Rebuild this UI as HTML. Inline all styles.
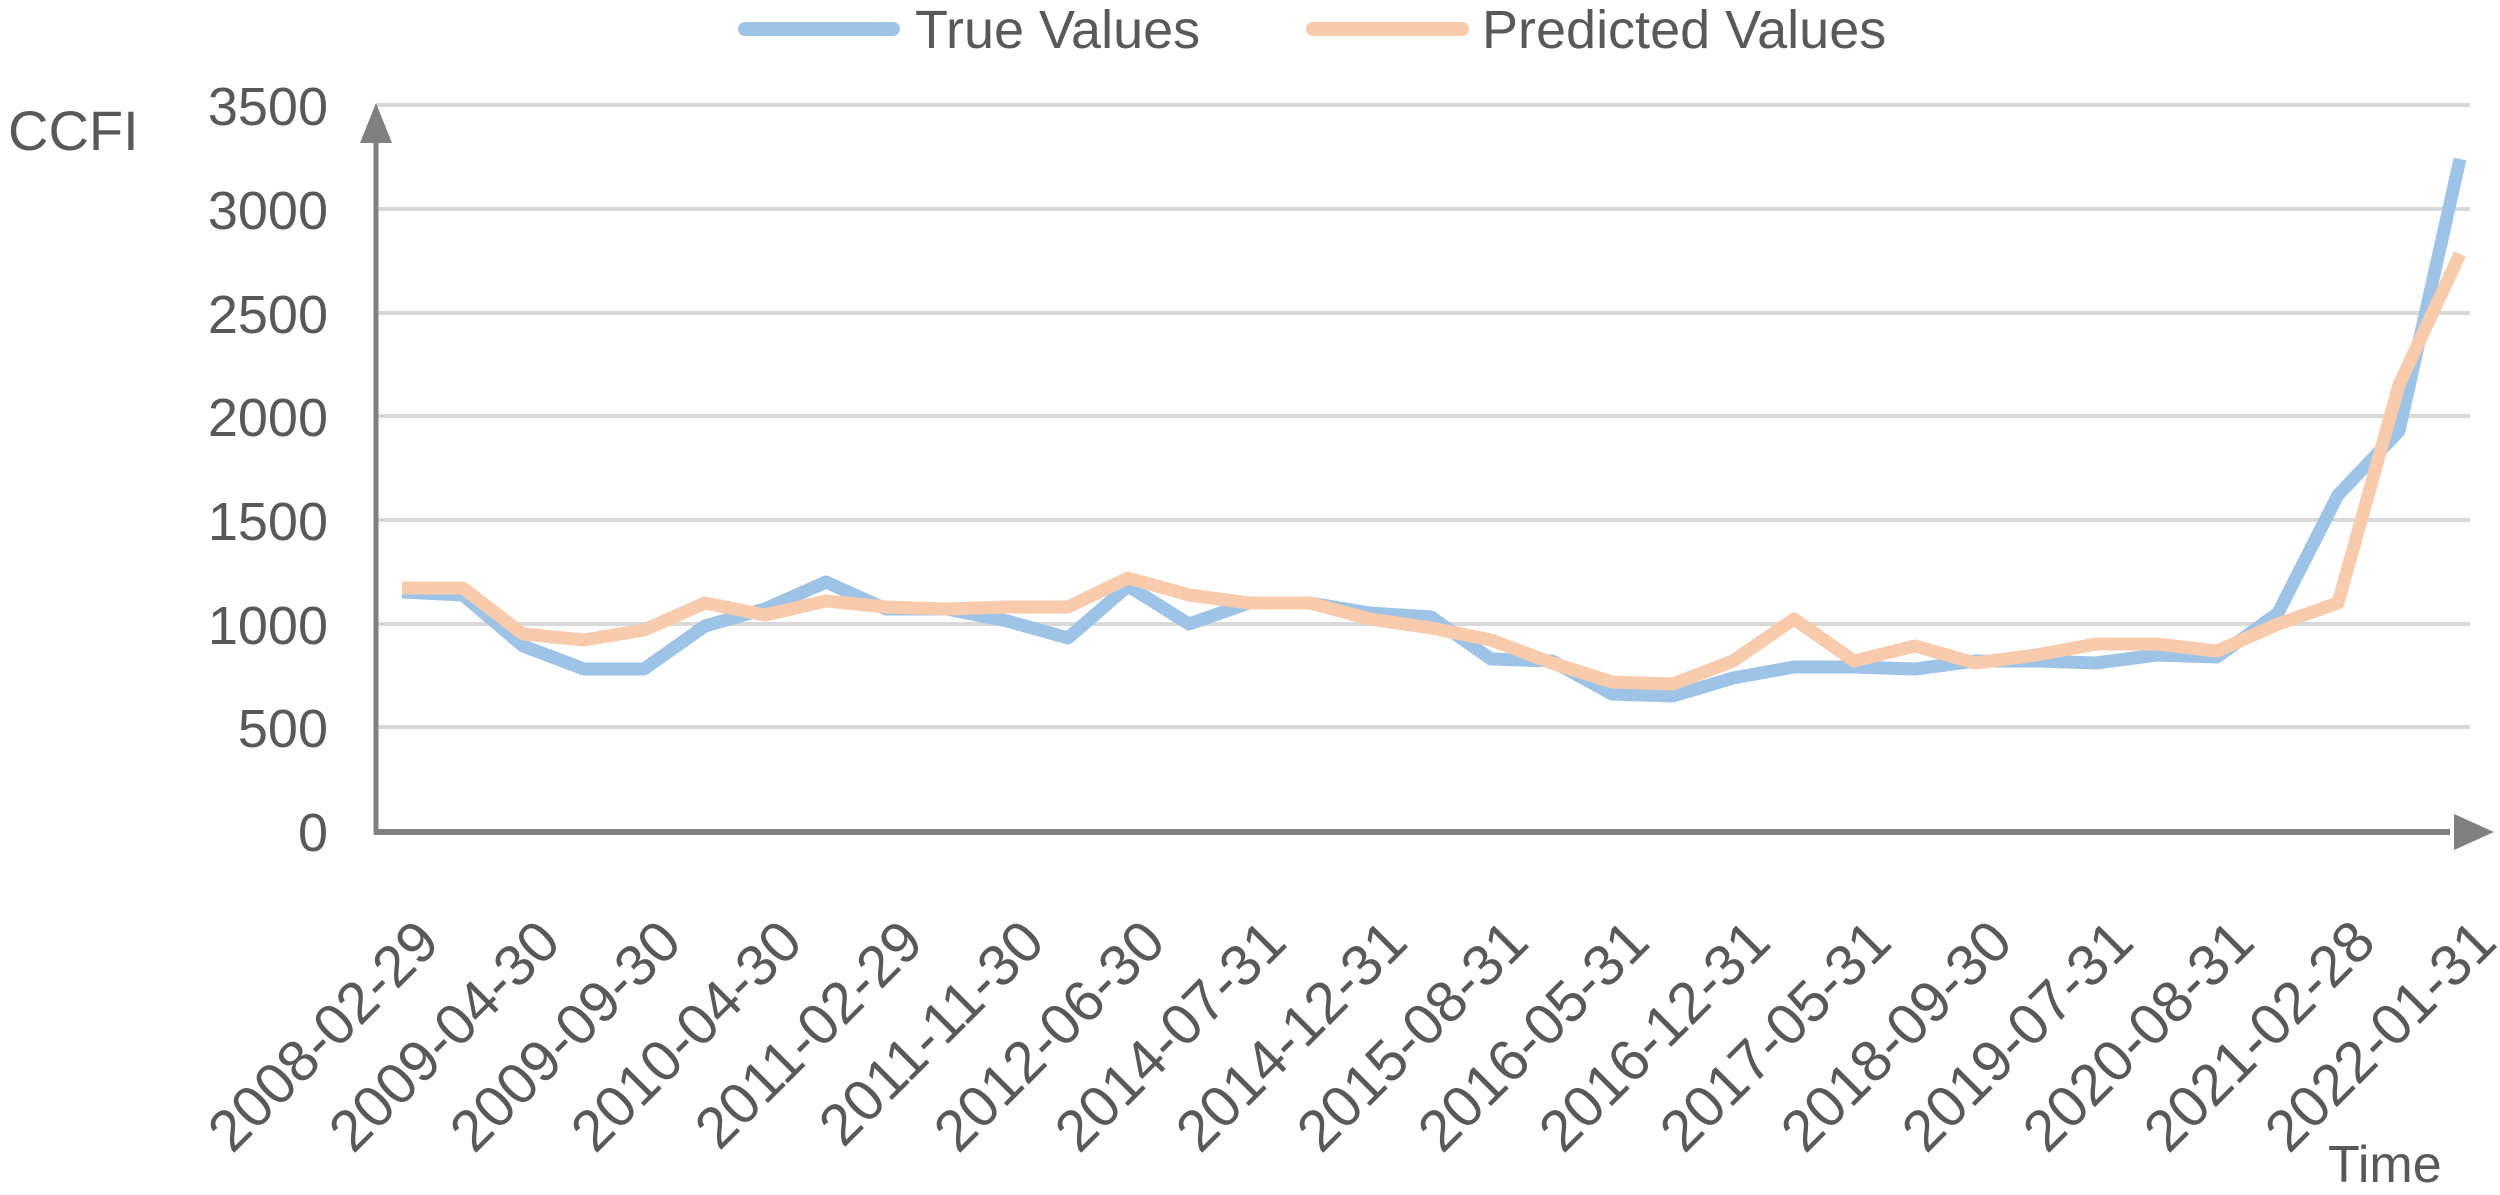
<!DOCTYPE html>
<html><head><meta charset="utf-8"><style>
body{margin:0;background:#fff}
svg text{font-family:"Liberation Sans",sans-serif;fill:#595959}
</style></head><body>
<svg width="2500" height="1190" viewBox="0 0 2500 1190" xmlns="http://www.w3.org/2000/svg">
<g stroke="#d9d9d9" stroke-width="4">
<line x1="376" x2="2470" y1="105" y2="105"/><line x1="376" x2="2470" y1="209" y2="209"/>
<line x1="376" x2="2470" y1="313" y2="313"/><line x1="376" x2="2470" y1="416" y2="416"/>
<line x1="376" x2="2470" y1="520" y2="520"/><line x1="376" x2="2470" y1="624" y2="624"/>
<line x1="376" x2="2470" y1="727" y2="727"/>
</g>
<g font-size="54" text-anchor="end">
<text x="328" y="125">3500</text><text x="328" y="229">3000</text><text x="328" y="333">2500</text>
<text x="328" y="436">2000</text><text x="328" y="540">1500</text><text x="328" y="644">1000</text>
<text x="328" y="747">500</text><text x="328" y="851">0</text>
</g>
<text x="8" y="150" font-size="56">CCFI</text>
<line x1="376" y1="834" x2="376" y2="140" stroke="#808080" stroke-width="5"/>
<polygon points="376,103 360,143 392,143" fill="#808080"/>
<line x1="374" y1="832" x2="2450" y2="832" stroke="#808080" stroke-width="6"/>
<polygon points="2494,832 2454,814 2454,850" fill="#808080"/>
<polyline fill="none" stroke="#9dc3e6" stroke-width="13" stroke-linejoin="round" points="402,592 463,595 523,646 584,669 644,669 705,626 765,609 826,582 886,609 947,609 1007,621 1068,638 1128,586 1189,624 1249,603 1310,603 1370,613 1431,617 1491,659 1552,661 1612,694 1673,696 1733,678 1794,667 1854,667 1915,669 1975,661 2036,661 2096,663 2157,655 2217,657 2278,613 2338,495 2399,431 2460,159"/>
<polyline fill="none" stroke="#f8cbad" stroke-width="13" stroke-linejoin="round" points="402,588 463,588 523,634 584,640 644,630 705,603 765,615 826,601 886,607 947,609 1007,607 1068,607 1128,578 1189,595 1249,603 1310,603 1370,619 1431,628 1491,640 1552,663 1612,682 1673,684 1733,661 1794,619 1854,661 1915,646 1975,663 2036,655 2096,644 2157,644 2217,651 2278,624 2338,603 2399,385 2460,254"/>
<line x1="745" y1="29" x2="893" y2="29" stroke="#9dc3e6" stroke-width="14" stroke-linecap="round"/>
<text x="915" y="48" font-size="54">True Values</text>
<line x1="1313" y1="29" x2="1462" y2="29" stroke="#f8cbad" stroke-width="14" stroke-linecap="round"/>
<text x="1482" y="48" font-size="54">Predicted Values</text>
<g font-size="58" text-anchor="end">
<text transform="translate(442,945) rotate(-45)">2008-02-29</text>
<text transform="translate(563,945) rotate(-45)">2009-04-30</text>
<text transform="translate(684,945) rotate(-45)">2009-09-30</text>
<text transform="translate(805,945) rotate(-45)">2010-04-30</text>
<text transform="translate(926,945) rotate(-45)">2011-02-29</text>
<text transform="translate(1047,945) rotate(-45)">2011-11-30</text>
<text transform="translate(1168,945) rotate(-45)">2012-06-30</text>
<text transform="translate(1289,945) rotate(-45)">2014-07-31</text>
<text transform="translate(1410,945) rotate(-45)">2014-12-31</text>
<text transform="translate(1531,945) rotate(-45)">2015-08-31</text>
<text transform="translate(1652,945) rotate(-45)">2016-05-31</text>
<text transform="translate(1773,945) rotate(-45)">2016-12-31</text>
<text transform="translate(1894,945) rotate(-45)">2017-05-31</text>
<text transform="translate(2015,945) rotate(-45)">2018-09-30</text>
<text transform="translate(2136,945) rotate(-45)">2019-07-31</text>
<text transform="translate(2257,945) rotate(-45)">2020-08-31</text>
<text transform="translate(2378,945) rotate(-45)">2021-02-28</text>
<text transform="translate(2499,945) rotate(-45)">2022-01-31</text>
</g>
<text x="2328" y="1182" font-size="52">Time</text>
</svg>
</body></html>
